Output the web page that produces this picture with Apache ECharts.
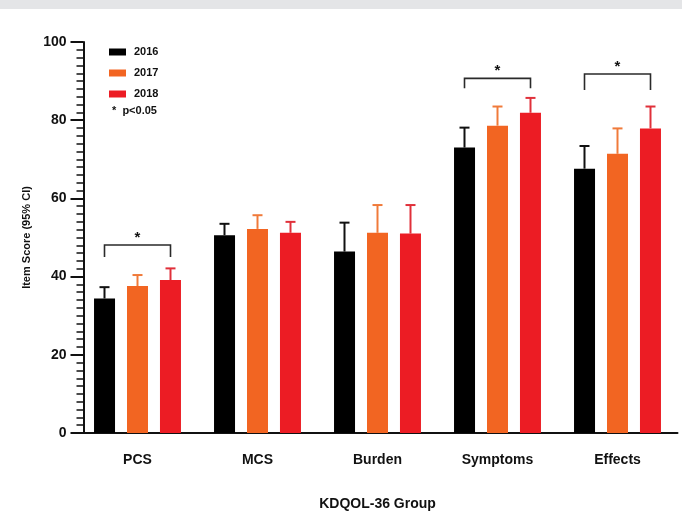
<!DOCTYPE html>
<html>
<head>
<meta charset="utf-8">
<script src="https://cdn.jsdelivr.net/npm/echarts@6/dist/echarts.min.js"></script>
<style>html,body{margin:0;padding:0;background:#fff}#c{width:682px;height:513px}</style>
</head>
<body>
<div id="c"></div>
<script>
var categories = ['PCS', 'MCS', 'Burden', 'Symptoms', 'Effects'];
var years = ['2016', '2017', '2018'];
var mean2016 = [34.4, 50.6, 46.4, 73.0, 67.6];
var mean2017 = [37.6, 52.2, 51.2, 78.6, 71.4];
var mean2018 = [39.1, 51.2, 51.0, 81.9, 77.9];
var upper2016 = [37.3, 53.5, 53.8, 78.1, 73.4];
var upper2017 = [40.4, 55.7, 58.3, 83.5, 77.9];
var upper2018 = [42.1, 54.0, 58.3, 85.7, 83.5];
// significance brackets: category, bracket top, leg bottom, star position
var sigCategories = ['PCS', 'Symptoms', 'Effects'];
var sigTop = [48.1, 90.7, 91.8];
var sigLeg = [45.0, 88.2, 87.7];
var sigStar = [50.6, 93.3, 94.4];
var yTicks = [0, 20, 40, 60, 80, 100];

var colors = ['#000000', '#f26522', '#ec1c24'];
var whiskerColors = ['#111111', '#f07a3a', '#e0303a'];
var barW = 21, barPitch = 33;
var means = [mean2016, mean2017, mean2018];
var uppers = [upper2016, upper2017, upper2018];

var chart = echarts.init(document.getElementById('c'), null, {renderer: 'canvas'});
var series = [];
years.forEach(function (y, k) {
  series.push({
    name: y, type: 'bar', barWidth: barW, barGap: '57%',
    itemStyle: {color: colors[k]},
    data: means[k], z: 2
  });
});
years.forEach(function (y, k) {
  series.push({
    type: 'custom', name: y + ' CI', z: 3, silent: true,
    data: categories.map(function (c, i) { return [i, means[k][i], uppers[k][i]]; }),
    renderItem: function (params, api) {
      var i = api.value(0);
      var p0 = api.coord([i, api.value(1)]);
      var p1 = api.coord([i, api.value(2)]);
      var x = p0[0] + (k - 1) * barPitch;
      var st = {stroke: whiskerColors[k], lineWidth: 2};
      return {type: 'group', children: [
        {type: 'line', shape: {x1: x, y1: p0[1], x2: x, y2: p1[1]}, style: st},
        {type: 'line', shape: {x1: x - 5, y1: p1[1], x2: x + 5, y2: p1[1]}, style: st}
      ]};
    }
  });
});
series.push({
  type: 'custom', name: 'sig', z: 4, silent: true,
  data: sigCategories.map(function (c, j) { return [categories.indexOf(c), sigTop[j], sigLeg[j], sigStar[j]]; }),
  renderItem: function (params, api) {
    var i = api.value(0);
    var pt = api.coord([i, api.value(1)]);
    var pl = api.coord([i, api.value(2)]);
    var ps = api.coord([i, api.value(3)]);
    var xl = pt[0] - barPitch, xr = pt[0] + barPitch;
    return {type: 'group', children: [
      {type: 'polyline', shape: {points: [[xl, pl[1]], [xl, pt[1]], [xr, pt[1]], [xr, pl[1]]]},
       style: {stroke: '#2a2a2a', lineWidth: 1.6, fill: null}},
      {type: 'text', x: pt[0], y: ps[1] + 3,
       style: {text: '*', font: 'bold 15px "Liberation Sans", Arial, sans-serif', fill: '#111', align: 'center', verticalAlign: 'middle'}}
    ]};
  }
});

chart.setOption({
  animation: false,
  graphic: [
    {type: 'rect', left: 0, top: 0, shape: {width: 682, height: 9}, style: {fill: '#e4e5e7'}, silent: true},
    {type: 'text', left: 112, top: 105, style: {text: '*  p<0.05', font: 'bold 11px "Liberation Sans", Arial, sans-serif', fill: '#111'}}
  ],
  legend: {
    data: years, orient: 'vertical', left: 109, top: 45, padding: 0,
    icon: 'rect', itemWidth: 17, itemHeight: 7, itemGap: 7,
    textStyle: {fontFamily: 'Liberation Sans', fontWeight: 'bold', fontSize: 11, color: '#111', lineHeight: 14, padding: [0, 0, 0, 3]}
  },
  grid: {left: 77.5, top: 42, width: 600, bottom: 80, containLabel: false, outerBoundsMode: 'none'},
  xAxis: {
    type: 'category', data: categories,
    axisLine: {lineStyle: {color: '#111', width: 2}},
    axisTick: {show: false},
    axisLabel: {margin: 20, fontFamily: 'Liberation Sans', fontWeight: 'bold', fontSize: 14, color: '#111'},
    name: 'KDQOL-36 Group', nameLocation: 'middle', nameGap: 64,
    nameTextStyle: {fontFamily: 'Liberation Sans', fontWeight: 'bold', fontSize: 14, color: '#111'}
  },
  yAxis: {
    type: 'value', min: yTicks[0], max: yTicks[yTicks.length - 1], interval: 20, offset: -6,
    axisLine: {show: true, lineStyle: {color: '#111', width: 2}},
    axisTick: {show: true, length: 13, lineStyle: {color: '#111', width: 2}},
    minorTick: {show: true, splitNumber: 10, length: 7, lineStyle: {color: '#111', width: 1.5}},
    splitLine: {show: false},
    axisLabel: {margin: 17, fontFamily: 'Liberation Sans', fontWeight: 'bold', fontSize: 14, color: '#111'},
    name: 'Item Score (95% CI)', nameLocation: 'middle', nameGap: 30, nameRotate: 90,
    nameTextStyle: {fontFamily: 'Liberation Sans', fontWeight: 'bold', fontSize: 11, color: '#111'}
  },
  series: series
});
</script>
</body>
</html>
